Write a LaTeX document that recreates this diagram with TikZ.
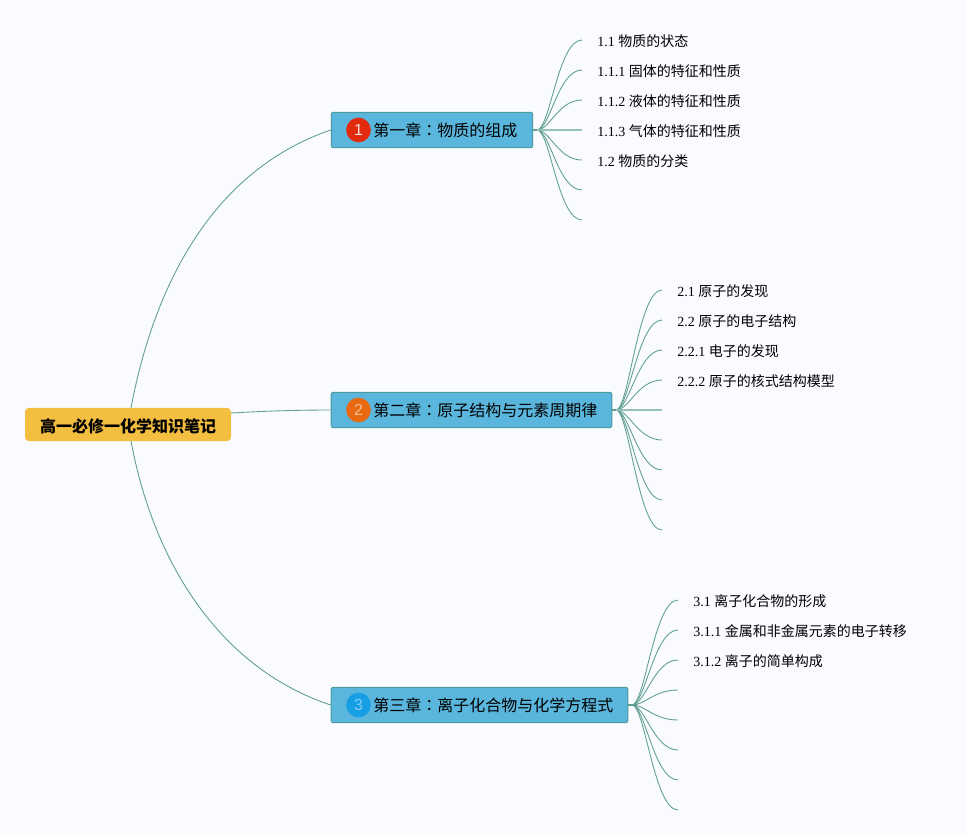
\documentclass[tikz,border=0pt]{standalone}
\usepackage{fontspec}
\setmainfont{Liberation Serif}
\newfontfamily\cjk{Noto Sans CJK SC}
\newfontfamily\cjkmark{Noto Sans CJK TC}
\newfontfamily\badgefont{Liberation Sans}
\usetikzlibrary{positioning}
\usetikzlibrary{calc}
\definecolor{pagebg}{HTML}{F9FBFF}
\definecolor{rootfill}{HTML}{F4BE41}
\definecolor{chapfill}{HTML}{5AB6DC}
\definecolor{chapline}{HTML}{4A9A9E}
\definecolor{linkcol}{HTML}{5F9E92}
\definecolor{badgeone}{HTML}{E12A0E}
\definecolor{badgetwo}{HTML}{E8690F}
\definecolor{badgethree}{HTML}{179FE6}
\tikzset{
root/.style={
  rounded corners=3pt,
  fill=rootfill,
  inner sep=0pt,
  minimum width=154.5pt,
  minimum height=25pt,
  text depth=0pt,
  font=\cjk\bfseries\fontsize{12}{14}\selectfont
  },
chap/.style={
  rounded corners=1.5pt,
  draw=chapline,
  line width=0.7pt,
  fill=chapfill,
  inner sep=0pt,
  minimum height=26.5pt
  },
chaptext/.style={
  anchor=west,
  inner sep=0pt,
  font=\cjk\fontsize{12}{14}\selectfont
  },
badge/.style={
  circle,
  inner sep=0pt,
  minimum width=18.5pt,
  text=white,
  font=\badgefont\fontsize{12}{14}\selectfont
  },
leaf/.style={
  anchor=west,
  inner sep=0pt,
  font=\fontsize{10.5}{12}\selectfont
  },
link/.style={
  draw=linkcol,
  line width=0.65pt
  },
stub/.style={
  draw=linkcol,
  line width=1.5pt
  },
midlink/.style={
  draw=linkcol!65,
  line width=1pt
  }
}
\newcommand{\zh}[1]{{\cjk #1}}
\newcommand{\mk}{{\cjkmark ：}}
\begin{document}
\begin{tikzpicture}[x=0.75pt,y=-0.75pt]
    \useasboundingbox[fill=pagebg] (0,0) rectangle (967,835);
    % main nodes
    \node[root] (r) at (128,424.5) {\raisebox{-1pt}{高一必修一化学知识笔记}};
    \node[chap,minimum width=151pt] (a) at (432,130) {};
    \node[chap,minimum width=210.5pt] (b) at (471.5,410) {};
    \node[chap,minimum width=222.5pt] (d) at (479.5,705) {};
    \node[badge,fill=badgeone,text=white!85!badgeone] (a0) at (358.5,130) {1};
    \node[badge,fill=badgetwo,text=white!55!badgetwo] (b0) at (358.5,410) {2};
    \node[badge,fill=badgethree,text=white!45!badgethree] (d0) at (358.5,705) {3};
    \node[chaptext] (a1) at (373,130.5) {第一章\mk 物质的组成};
    \node[chaptext] (b1) at (373,410.5) {第二章\mk 原子结构与元素周期律};
    \node[chaptext] (d1) at (373,705.5) {第三章\mk 离子化合物与化学方程式};
    % root links
    \coordinate (rt) at (131,408);
    \coordinate (rb) at (131,441);
    \coordinate (rr) at (231,413);
    \draw[link] (rt) .. controls (157,270) and (222,167) .. (a.west);
    \draw[link] (rr) .. controls (265,411) and (300,410) .. (b.west);
    \draw[link] (rb) .. controls (155,570) and (225,670) .. (d.west);
    % first chapter
    \coordinate (as) at (537,130);
    \draw[stub] (a.east) -- (as);
    \node[leaf] (a2) at (597,41) {1.1 \zh{物质的状态}};
    \node[leaf] (a3) at (597,71) {1.1.1 \zh{固体的特征和性质}};
    \node[leaf] (a4) at (597,101) {1.1.2 \zh{液体的特征和性质}};
    \node[leaf] (a5) at (597,131) {1.1.3 \zh{气体的特征和性质}};
    \node[leaf] (a6) at (597,161) {1.2 \zh{物质的分类}};
    \foreach \i/\y in {1/40,2/70,3/100,5/160,6/190,7/220}
        {
        \coordinate (ae\i) at (582,\y);
        \draw[link] (as) .. controls (550,130) and (558,\y) .. (ae\i);
        }
    \coordinate (ae4) at (582,130);
    \draw[midlink] (as) -- (ae4);
    % second chapter
    \coordinate (bs) at (616,410);
    \draw[stub] (b.east) -- (bs);
    \node[leaf] (b2) at (677,291) {2.1 \zh{原子的发现}};
    \node[leaf] (b3) at (677,321) {2.2 \zh{原子的电子结构}};
    \node[leaf] (b4) at (677,351) {2.2.1 \zh{电子的发现}};
    \node[leaf] (b5) at (677,381) {2.2.2 \zh{原子的核式结构模型}};
    \foreach \i/\y in {1/290,2/320,3/350,4/380,6/440,7/470,8/500,9/530}
        {
        \coordinate (be\i) at (662,\y);
        \draw[link] (bs) .. controls (629,410) and (638,\y) .. (be\i);
        }
    \coordinate (be5) at (662,410);
    \draw[midlink] (bs) -- (be5);
    % third chapter
    \coordinate (ds) at (632,705);
    \draw[stub] (d.east) -- (ds);
    \node[leaf] (d2) at (693,601) {3.1 \zh{离子化合物的形成}};
    \node[leaf] (d3) at (693,631) {3.1.1 \zh{金属和非金属元素的电子转移}};
    \node[leaf] (d4) at (693,661) {3.1.2 \zh{离子的简单构成}};
    \foreach \i/\y in {1/600,2/630,3/660,4/690,5/720,6/750,7/780,8/810}
        {
        \coordinate (de\i) at (678,\y);
        \draw[link] (ds) .. controls (645,705) and (654,\y) .. (de\i);
        }
\end{tikzpicture}
\end{document}
